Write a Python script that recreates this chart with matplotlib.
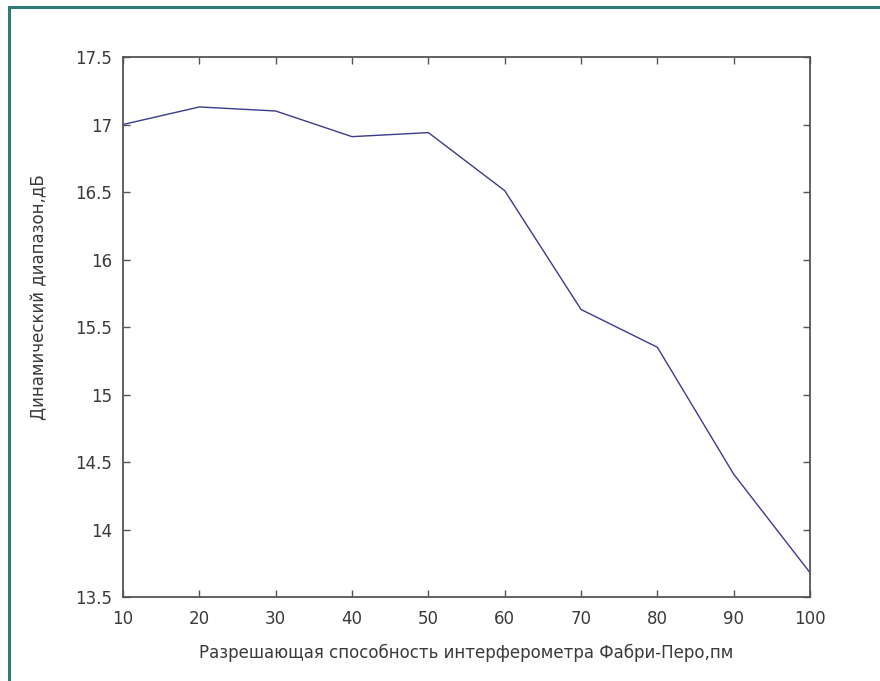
import matplotlib
matplotlib.use("Agg")
import matplotlib.pyplot as plt
from matplotlib.lines import Line2D

# Dynamic range vs. Fabry-Perot interferometer resolution
resolution_pm = [10, 20, 30, 40, 50, 60, 70, 80, 90, 100]
dynamic_range_db = [17.00, 17.13, 17.10, 16.91, 16.94, 16.51, 15.63, 15.35, 14.41, 13.68]

x_ticks = [10, 20, 30, 40, 50, 60, 70, 80, 90, 100]
y_ticks = [13.5, 14, 14.5, 15, 15.5, 16, 16.5, 17, 17.5]
y_tick_labels = ["13.5", "14", "14.5", "15", "15.5", "16", "16.5", "17", "17.5"]

plt.rcParams["font.family"] = ["DejaVu Sans"]

fig = plt.figure(figsize=(8.8, 6.81), dpi=100)
ax = fig.add_axes([0.1398, 0.1233, 0.7807, 0.7930])

ax.plot(resolution_pm, dynamic_range_db, color="#3b3b8f", linewidth=1.0)

ax.set_xlim(10, 100)
ax.set_ylim(13.5, 17.5)
ax.set_xticks(x_ticks)
ax.set_yticks(y_ticks)
ax.set_yticklabels(y_tick_labels)

ax.tick_params(direction="in", top=True, right=True, length=5, width=1,
               color="#555555", labelsize=12, labelcolor="#3a3a3a")
ax.tick_params(axis="x", pad=9)
ax.tick_params(axis="y", pad=8)
for s in ax.spines.values():
    s.set_color("#555555")
    s.set_linewidth(1.3)

ax.set_xlabel("Разрешающая способность интерферометра Фабри-Перо,пм",
              fontsize=12, color="#3a3a3a", labelpad=12)
ax.set_ylabel("Динамический диапазон,дБ", fontsize=12, color="#3a3a3a")
ax.yaxis.set_label_coords(-0.108, 0.556)

# teal frame along the top and left edges
frame_color = "#2e7c74"
fig.add_artist(Line2D([9 / 880, 1.0], [1 - 7 / 681, 1 - 7 / 681],
                      transform=fig.transFigure, color=frame_color, linewidth=2.2))
fig.add_artist(Line2D([9 / 880, 9 / 880], [0.0, 1 - 7 / 681],
                      transform=fig.transFigure, color=frame_color, linewidth=2.2))

fig.savefig("out.png", dpi=100)
